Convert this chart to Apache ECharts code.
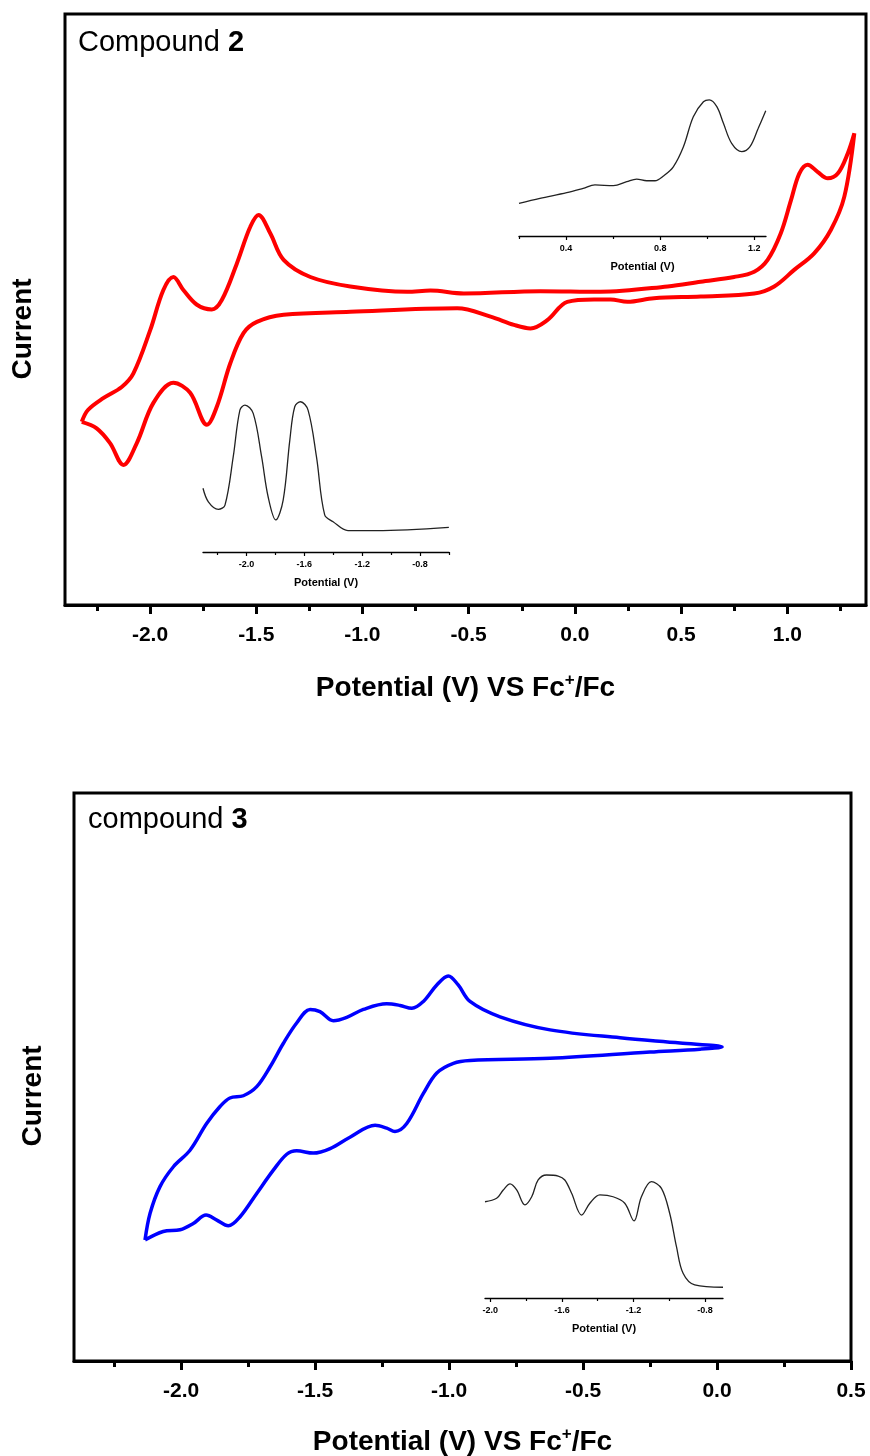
<!DOCTYPE html>
<html><head><meta charset="utf-8">
<script src="https://cdn.jsdelivr.net/npm/echarts@6/dist/echarts.min.js"></script>
<style>html,body{margin:0;padding:0;background:#fff}#c{width:870px;height:1456px}</style>
</head><body><div id="c"></div>
<script>
// ---- Data (potential V, current arbitrary units) ----
const cv2 = [[-2.321,31.0],[-2.251,29.9],[-2.188,27.4],[-2.125,23.7],[-2.062,27.4],[-1.984,34.2],[-1.890,37.6],[-1.811,35.9],[-1.732,30.5],[-1.685,33.6],[-1.622,40.9],[-1.560,46.0],[-1.497,47.9],[-1.371,49.1],[-1.057,49.6],[-0.554,50.2],[-0.397,48.8],[-0.287,47.4],[-0.209,46.8],[-0.130,48.2],[-0.036,51.3],[0.090,51.7],[0.168,51.7],[0.247,51.3],[0.372,51.9],[0.592,52.2],[0.844,52.7],[0.938,53.9],[1.032,56.7],[1.126,59.5],[1.205,63.5],[1.268,69.1],[1.315,79.8],
  [1.284,76.4],[1.237,73.0],[1.190,72.2],[1.142,73.3],[1.095,74.5],[1.056,73.0],[1.017,68.5],[0.969,62.9],[0.907,58.4],[0.844,56.4],[0.749,55.5],[0.592,54.7],[0.436,53.9],[0.121,53.0],[-0.162,53.1],[-0.523,52.7],[-0.680,53.2],[-0.790,53.0],[-1.057,53.9],[-1.245,55.5],[-1.371,58.4],[-1.434,62.9],[-1.489,66.0],[-1.528,64.0],[-1.591,57.8],[-1.662,51.6],[-1.709,50.0],[-1.779,50.8],[-1.843,53.3],[-1.890,55.5],[-1.937,53.3],[-1.999,46.5],[-2.078,39.2],[-2.133,36.9],[-2.220,35.0],[-2.292,33.0],[-2.321,31.0]];
const dpv2Red = [[-2.30,40.6],[-2.263,32.0],[-2.194,27.2],[-2.148,29.9],[-2.091,60.7],[-2.045,90.4],[-2.010,93.6],[-1.953,88.3],[-1.895,60.7],[-1.850,35.2],[-1.797,20.4],[-1.746,33.1],[-1.700,71.3],[-1.666,92.5],[-1.626,95.7],[-1.574,90.4],[-1.516,60.7],[-1.459,23.6],[-1.401,19.3],[-1.298,13.6],[-1.102,13.6],[-0.601,15.7]];
const dpv2Ox = [[0.20,23.2],[0.289,26.7],[0.403,30.7],[0.473,33.8],[0.523,36.2],[0.601,35.7],[0.658,38.5],[0.700,40.4],[0.743,39.2],[0.778,39.2],[0.814,42.6],[0.856,49.1],[0.899,63.3],[0.941,84.6],[0.984,95.2],[1.009,96.5],[1.041,91.7],[1.069,79.9],[1.104,65.7],[1.147,59.8],[1.182,63.3],[1.217,76.4],[1.249,88.9]];
const cv3 = [[-2.135,21.3],[-2.116,26.0],[-2.079,30.7],[-2.029,34.2],[-1.967,37.1],[-1.905,41.8],[-1.855,44.8],[-1.818,46.3],[-1.768,46.7],[-1.718,48.3],[-1.668,51.8],[-1.619,55.9],[-1.569,59.5],[-1.519,61.9],[-1.482,61.5],[-1.432,59.9],[-1.382,60.5],[-1.320,61.9],[-1.233,62.9],[-1.183,62.6],[-1.139,62.1],[-1.096,63.3],[-1.046,66.2],[-1.003,67.8],[-0.966,66.2],[-0.922,63.3],[-0.810,60.6],[-0.623,58.3],[-0.362,56.9],[-0.138,56.0],[0.019,55.3],
  [-0.063,54.9],[-0.250,54.4],[-0.623,53.3],[-0.922,52.9],[-0.984,52.4],[-1.046,50.7],[-1.096,47.1],[-1.158,41.8],[-1.202,40.4],[-1.233,41.0],[-1.276,41.5],[-1.370,39.4],[-1.444,37.4],[-1.507,36.6],[-1.569,37.0],[-1.606,36.4],[-1.656,33.6],[-1.718,29.5],[-1.780,25.4],[-1.824,23.8],[-1.867,24.8],[-1.907,25.7],[-1.955,24.2],[-2.004,23.1],[-2.067,22.8],[-2.135,21.3]];
const dpv3 = [[-2.03,75.2],[-1.965,77.9],[-1.928,84.4],[-1.890,89.1],[-1.853,84.4],[-1.807,72.7],[-1.769,79.1],[-1.733,92.2],[-1.686,96.1],[-1.621,95.3],[-1.584,92.2],[-1.546,81.8],[-1.490,64.8],[-1.444,74.0],[-1.388,80.5],[-1.314,79.1],[-1.249,74.0],[-1.197,60.2],[-1.156,79.1],[-1.100,90.9],[-1.044,85.7],[-0.998,66.2],[-0.960,40.1],[-0.923,19.3],[-0.858,10.2],[-0.700,8.4]];

// ---- Tick labels ----
const ticks2Major = [-2.0,-1.5,-1.0,-0.5,0.0,0.5,1.0];
const ticks2Minor = [-2.25,-1.75,-1.25,-0.75,-0.25,0.25,0.75,1.25];
const ticks3Major = [-2.0,-1.5,-1.0,-0.5,0.0,0.5];
const ticks3Minor = [-2.25,-1.75,-1.25,-0.75,-0.25,0.25];
const insetRedMajor = [-2.0,-1.6,-1.2,-0.8];
const insetRedMinor = [-2.2,-1.8,-1.4,-1.0,-0.6];
const insetOxMajor = [0.4,0.8,1.2];
const insetOxMinor = [0.2,0.6,1.0];
const inset3Major = [-2.0,-1.6,-1.2,-0.8];
const inset3Minor = [-1.8,-1.4,-1.0];

const FONT = 'Liberation Sans, Arial, sans-serif';
const fmt = v => Number(v).toFixed(1);

function mainAxis(grid, min, max, major, gapLabel, gapName) {
  return {
    type:'value', gridIndex:grid, min:min, max:max, position:'bottom',
    axisLine:{show:true, lineStyle:{color:'#000', width:3}},
    axisTick:{show:true, customValues:major, length:9, lineStyle:{color:'#000', width:3}},
    axisLabel:{show:true, customValues:major, formatter:fmt, margin:gapLabel, color:'#000', fontFamily:FONT, fontWeight:'bold', fontSize:21},
    splitLine:{show:false},
    name:'{a|Potential (V) VS Fc}{s|+}{a|/Fc}', nameLocation:'middle', nameGap:gapName,
    nameTextStyle:{color:'#000', fontFamily:FONT, fontWeight:'bold', fontSize:28,
      rich:{a:{fontFamily:FONT, fontWeight:'bold', fontSize:28, lineHeight:32, color:'#000'},
            s:{fontFamily:FONT, fontWeight:'bold', fontSize:17, lineHeight:18, verticalAlign:'top', color:'#000'}}}
  };
}
function minorAxis(grid, min, max, vals, len, w) {
  return {
    type:'value', gridIndex:grid, min:min, max:max, position:'bottom',
    axisLine:{show:false},
    axisTick:{show:true, customValues:vals, length:len, lineStyle:{color:'#000', width:w}},
    axisLabel:{show:false}, splitLine:{show:false}
  };
}
function insetAxis(grid, min, max, major) {
  return {
    type:'value', gridIndex:grid, min:min, max:max, position:'bottom',
    axisLine:{show:true, lineStyle:{color:'#000', width:1.3}},
    axisTick:{show:true, customValues:major, length:4, lineStyle:{color:'#000', width:1.2}},
    axisLabel:{show:true, customValues:major, formatter:fmt, margin:8, color:'#000', fontFamily:FONT, fontWeight:'bold', fontSize:9},
    splitLine:{show:false},
    name:'Potential (V)', nameLocation:'middle', nameGap:25,
    nameTextStyle:{color:'#000', fontFamily:FONT, fontWeight:'bold', fontSize:11}
  };
}
function yHidden(grid) {
  return {type:'value', gridIndex:grid, min:0, max:100, show:false, splitLine:{show:false}};
}

const option = {
  backgroundColor:'#fff',
  animation:false,
  grid:[
    {left:65, top:14, width:801, height:591, show:true, borderColor:'#000', borderWidth:3, backgroundColor:'transparent', outerBoundsMode:'none'},
    {left:203, top:395, width:246, height:157, outerBoundsMode:'none'},
    {left:519, top:95, width:247, height:141, outerBoundsMode:'none'},
    {left:74, top:793, width:777, height:568, show:true, borderColor:'#000', borderWidth:3, backgroundColor:'transparent', outerBoundsMode:'none'},
    {left:485, top:1170, width:238, height:128, outerBoundsMode:'none'}
  ],
  xAxis:[
    mainAxis(0, -2.4, 1.37, ticks2Major, 20, 67),
    minorAxis(0, -2.4, 1.37, ticks2Minor, 6, 3),
    insetAxis(1, -2.3, -0.6, insetRedMajor),
    minorAxis(1, -2.3, -0.6, insetRedMinor, 3, 1.2),
    insetAxis(2, 0.2, 1.25, insetOxMajor),
    minorAxis(2, 0.2, 1.25, insetOxMinor, 3, 1.2),
    mainAxis(3, -2.4, 0.5, ticks3Major, 20, 65),
    minorAxis(3, -2.4, 0.5, ticks3Minor, 6, 3),
    insetAxis(4, -2.03, -0.7, inset3Major),
    minorAxis(4, -2.03, -0.7, inset3Minor, 3, 1.2)
  ],
  yAxis:[yHidden(0), yHidden(1), yHidden(2), yHidden(3), yHidden(4)],
  series:[
    {type:'line', name:'Compound 2 CV', xAxisIndex:0, yAxisIndex:0, data:cv2, smooth:0.35, showSymbol:false, lineStyle:{color:'#ff0000', width:4}, itemStyle:{color:'#ff0000'}},
    {type:'line', name:'Compound 2 DPV red', xAxisIndex:2, yAxisIndex:1, data:dpv2Red, smooth:0.35, showSymbol:false, lineStyle:{color:'#222', width:1.3}},
    {type:'line', name:'Compound 2 DPV ox', xAxisIndex:4, yAxisIndex:2, data:dpv2Ox, smooth:0.35, showSymbol:false, lineStyle:{color:'#222', width:1.3}},
    {type:'line', name:'Compound 3 CV', xAxisIndex:6, yAxisIndex:3, data:cv3, smooth:0.35, showSymbol:false, lineStyle:{color:'#0000ff', width:3.5}, itemStyle:{color:'#0000ff'}},
    {type:'line', name:'Compound 3 DPV', xAxisIndex:8, yAxisIndex:4, data:dpv3, smooth:0.35, showSymbol:false, lineStyle:{color:'#222', width:1.3}}
  ],
  graphic:[
    {type:'text', left:78, top:28, style:{text:'{a|Compound }{b|2}', rich:{a:{fontFamily:FONT, fontSize:29, fill:'#000'}, b:{fontFamily:FONT, fontSize:29, fontWeight:'bold', fill:'#000'}}}},
    {type:'text', left:88, top:805, style:{text:'{a|compound }{b|3}', rich:{a:{fontFamily:FONT, fontSize:29, fill:'#000'}, b:{fontFamily:FONT, fontSize:29, fontWeight:'bold', fill:'#000'}}}},
    {type:'text', x:23, y:329, rotation:Math.PI/2, style:{text:'Current', align:'center', verticalAlign:'middle', font:'bold 28px ' + FONT, fill:'#000'}},
    {type:'text', x:33, y:1096, rotation:Math.PI/2, style:{text:'Current', align:'center', verticalAlign:'middle', font:'bold 28px ' + FONT, fill:'#000'}}
  ]
};
const chart = echarts.init(document.getElementById('c'), null, {renderer:'canvas'});
chart.setOption(option);
</script>
</body></html>
